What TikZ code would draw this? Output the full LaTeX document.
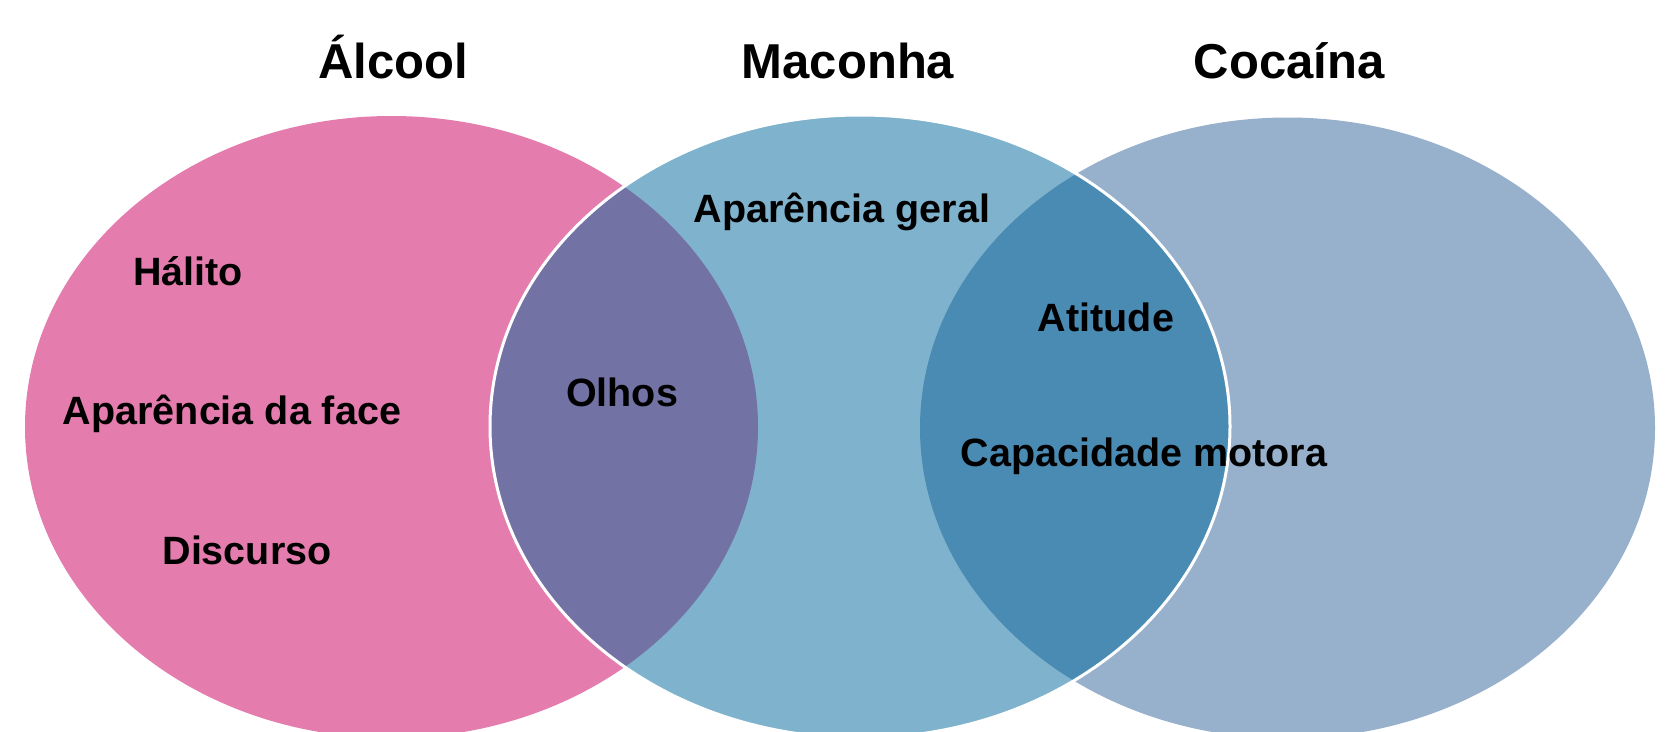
\documentclass[tikz,border=0pt]{standalone}
\usepackage{fontspec}
\setmainfont{Liberation Sans}
\definecolor{pinkc}{RGB}{228,125,174}
\definecolor{midc}{RGB}{127,178,204}
\definecolor{rightc}{RGB}{151,176,203}
\definecolor{lmc}{RGB}{114,114,164}
\definecolor{mrc}{RGB}{74,139,180}
\tikzset{
  head/.style={anchor=base, inner sep=0pt, font=\fontsize{49}{58}\selectfont\bfseries},
  item/.style={anchor=base, inner sep=0pt, font=\fontsize{39.5}{47}\selectfont\bfseries},
  ellL/.style={x radius=366.5, y radius=311},
  ellM/.style={x radius=370, y radius=311.5},
  ellR/.style={x radius=367.5, y radius=310.5},
}
\begin{document}
\begin{tikzpicture}[x=1pt,y=-1pt]
\useasboundingbox (0,0) rectangle (1668,731);
\coordinate (cL) at (391.5,427);
\coordinate (cM) at (860,426.5);
\coordinate (cR) at (1287.5,428);
% base ellipses
\fill[pinkc] (cL) ellipse [ellL];
\fill[rightc] (cR) ellipse [ellR];
\fill[midc] (cM) ellipse [ellM];
% overlaps
\begin{scope}
  \clip (cL) ellipse [ellL];
  \fill[lmc] (cM) ellipse [ellM];
\end{scope}
\begin{scope}
  \clip (cR) ellipse [ellR];
  \fill[mrc] (cM) ellipse [ellM];
\end{scope}
\draw[white, line width=3pt] (cM) ellipse [ellM];
% headings
\node[head] (alcool) at (393,78) {Álcool};
\node[head] (maconha) at (848,78) {Maconha};
\node[head] (cocaina) at (1289,78) {Cocaína};
% items
\node[item] (apgeral) at (842,222) {Aparência geral};
\node[item] (halito) at (188,285) {Hálito};
\node[item] (atitude) at (1106,331) {Atitude};
\node[item] (olhos) at (622,406) {Olhos};
\node[item] (apface) at (232,424) {Aparência da face};
\node[item] (capmot) at (1144,466) {Capacidade motora};
\node[item] (discurso) at (247,564) {Discurso};
\end{tikzpicture}
\end{document}
